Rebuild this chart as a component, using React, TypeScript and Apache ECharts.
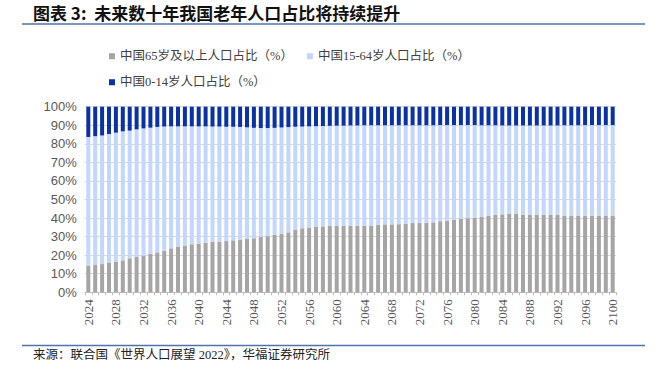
import React, { useEffect, useRef } from "react";
import * as echarts from "echarts";

const years: string[] = Array.from({ length: 77 }, (_, i) => String(2024 + i));

const seriesNames = [
  "中国65岁及以上人口占比（%）",
  "中国15-64岁人口占比（%）",
  "中国0-14岁人口占比（%）",
];

const older = [
  14.4, 15.0, 15.2, 15.8, 16.5, 17.2, 18.3, 19.0, 19.7, 20.8, 21.5, 22.3, 23.7, 24.4, 25.1, 25.9,
  26.2, 26.6, 27.3, 27.3, 27.6, 28.0, 28.2, 28.7, 29.1, 29.8, 30.2, 30.9, 31.6, 32.3, 33.8, 34.5,
  34.8, 35.2, 35.5, 35.7, 35.7, 35.7, 35.8, 35.8, 35.9, 35.8, 36.3, 36.6, 36.6, 36.7, 37.0, 37.3,
  37.3, 37.4, 37.7, 38.3, 38.4, 39.0, 39.5, 39.9, 40.2, 40.6, 41.3, 41.7, 42.0, 42.2, 42.2, 41.7,
  41.7, 41.7, 41.7, 41.7, 41.7, 41.3, 41.3, 41.3, 41.3, 41.3, 41.3, 41.3, 41.3,
];

const working = [
  69.3, 69.1, 69.3, 69.5, 69.5, 69.5, 68.8, 68.8, 68.6, 67.9, 67.6, 67.0, 65.7, 65.0, 64.3, 63.5,
  63.2, 62.8, 62.0, 62.0, 61.6, 61.2, 60.9, 60.2, 59.5, 58.7, 58.3, 57.7, 57.2, 56.7, 55.4, 54.8,
  54.6, 54.3, 54.1, 54.0, 54.1, 54.1, 54.1, 54.1, 54.1, 54.2, 53.7, 53.4, 53.4, 53.3, 53.0, 52.7,
  52.7, 52.6, 52.3, 51.8, 51.7, 51.1, 50.6, 50.2, 49.9, 49.4, 48.7, 48.3, 47.9, 47.7, 47.7, 48.2,
  48.2, 48.2, 48.2, 48.2, 48.2, 48.7, 48.7, 48.7, 48.8, 48.8, 48.8, 48.8, 48.8,
];

const children = [
  16.3, 15.9, 15.5, 14.7, 14.0, 13.3, 12.9, 12.2, 11.7, 11.3, 10.9, 10.7, 10.6, 10.6, 10.6, 10.6,
  10.6, 10.6, 10.7, 10.7, 10.8, 10.8, 10.9, 11.1, 11.4, 11.5, 11.5, 11.4, 11.2, 11.0, 10.8, 10.7,
  10.6, 10.5, 10.4, 10.3, 10.2, 10.2, 10.1, 10.1, 10.0, 10.0, 10.0, 10.0, 10.0, 10.0, 10.0, 10.0,
  10.0, 10.0, 10.0, 9.9, 9.9, 9.9, 9.9, 9.9, 9.9, 10.0, 10.0, 10.0, 10.1, 10.1, 10.1, 10.1,
  10.1, 10.1, 10.1, 10.1, 10.1, 10.0, 10.0, 10.0, 9.9, 9.9, 9.9, 9.9, 9.9,
];

const titleText = "图表 3:  未来数十年我国老年人口占比将持续提升";
const sourceText = "来源：联合国《世界人口展望 2022》，华福证券研究所";

const CJK_SERIF = '"Liberation Serif", "Noto Sans CJK SC", serif';

export default function App() {
  const ref = useRef<HTMLDivElement>(null);

  useEffect(() => {
    if (!ref.current) return;
    const chart = echarts.init(ref.current, undefined, { renderer: "svg" });
    const legendText = { fontFamily: CJK_SERIF, fontSize: 12.5, color: "#404040" };
    chart.setOption({
      animation: false,
      backgroundColor: "#ffffff",
      graphic: [
        {
          type: "text",
          left: 33,
          top: 4,
          style: {
            text: titleText,
            font: 'bold 17px "Noto Sans CJK SC", sans-serif',
            fill: "#111111",
          },
        },
        {
          type: "line",
          shape: { x1: 22, y1: 24, x2: 645, y2: 24 },
          style: { stroke: "#4f73a8", lineWidth: 1.5 },
        },
        {
          type: "line",
          shape: { x1: 22, y1: 345.5, x2: 645, y2: 345.5 },
          style: { stroke: "#4f73a8", lineWidth: 1.5 },
        },
        {
          type: "text",
          left: 33,
          top: 349,
          style: {
            text: sourceText,
            font: '12.5px "Liberation Serif", "Noto Sans CJK SC", serif',
            fill: "#222222",
          },
        },
      ],
      legend: [
        {
          data: [seriesNames[0], seriesNames[1]],
          left: 104,
          top: 45,
          icon: "rect",
          itemWidth: 6,
          itemHeight: 6,
          itemGap: 14,
          textStyle: legendText,
        },
        {
          data: [seriesNames[2]],
          left: 104,
          top: 71,
          icon: "rect",
          itemWidth: 6,
          itemHeight: 6,
          textStyle: legendText,
        },
      ],
      grid: { left: 84.85, right: 661 - 616.15, top: 106.7, bottom: 392 - 292.3, containLabel: false },
      xAxis: {
        type: "category",
        data: years,
        boundaryGap: true,
        axisLine: { lineStyle: { color: "#bfbfbf", width: 1 } },
        axisTick: { show: true, interval: 0, length: 3, lineStyle: { color: "#bfbfbf" } },
        axisLabel: {
          interval: 3,
          rotate: 90,
          fontFamily: '"Liberation Serif", serif',
          fontSize: 13,
          color: "#595959",
          margin: 7,
        },
        splitLine: { show: false },
      },
      yAxis: {
        type: "value",
        min: 0,
        max: 100,
        interval: 10,
        axisLine: { show: false },
        axisTick: { show: false },
        axisLabel: {
          formatter: "{value}%",
          fontFamily: '"Liberation Sans", sans-serif',
          fontSize: 13,
          color: "#595959",
          margin: 8,
        },
        splitLine: { lineStyle: { color: "#d9d9d9", width: 1 } },
      },
      series: [
        {
          name: seriesNames[0],
          type: "bar",
          stack: "total",
          data: older,
          barWidth: 4,
          itemStyle: { color: "#a5a5a5" },
        },
        {
          name: seriesNames[1],
          type: "bar",
          stack: "total",
          data: working,
          barWidth: 4,
          itemStyle: { color: "#c3d6fc" },
        },
        {
          name: seriesNames[2],
          type: "bar",
          stack: "total",
          data: children,
          barWidth: 4,
          itemStyle: { color: "#0a32a6" },
        },
      ],
    });
    return () => chart.dispose();
  }, []);

  return (
    <div
      ref={ref}
      style={{ position: "fixed", left: 0, top: 0, width: 661, height: 392, background: "#fff" }}
    />
  );
}
